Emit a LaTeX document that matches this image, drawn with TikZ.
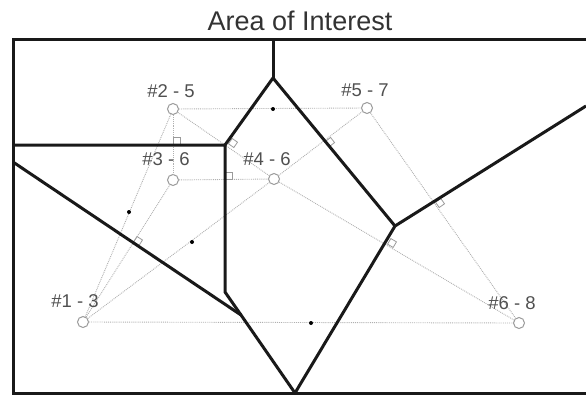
\documentclass[tikz,border=0pt]{standalone}
\usepackage{fontspec}
\setmainfont{Liberation Sans}
\definecolor{sitegray}{HTML}{9A9A9A}
\definecolor{delgray}{HTML}{B0B0B0}
\definecolor{labgray}{HTML}{505050}
\begin{document}
\begin{tikzpicture}[x=1pt,y=-1pt,
  vor/.style={line width=3pt, line join=miter, black!90},
  del/.style={densely dotted, line width=0.9pt, delgray},
  site/.style={circle, draw=sitegray, line width=1pt, minimum size=11pt, inner sep=0pt, fill=white},
  rsq/.style={rectangle, draw=sitegray, line width=0.8pt, minimum size=6.5pt, inner sep=0pt},
  mid/.style={circle, fill=black, minimum size=4pt, inner sep=0pt},
  lab/.style={font=\fontsize{18.5}{18.5}\selectfont, text=labgray, inner sep=0pt},
  ttl/.style={font=\fontsize{27}{27}\selectfont, text=black!80, inner sep=0pt}]
\useasboundingbox (0,0) rectangle (586,396);
% title
\node[ttl] (title) at (300,21) {Area of Interest};
% frame and Voronoi vertices
\coordinate (TL) at (13,40);
\coordinate (TR) at (586,40);
\coordinate (BL) at (13,393);
\coordinate (BR) at (586,393);
\coordinate (A) at (273,40);
\coordinate (B) at (273,78);
\coordinate (C) at (225,145);
\coordinate (L1) at (13,145);
\coordinate (D) at (225,292);
\coordinate (E) at (241,315);
\coordinate (L2) at (13,162);
\coordinate (F) at (295,393);
\coordinate (G) at (395,226);
\coordinate (R) at (586,106);
% sites
\node[site] (s1) at (83,322) {};
\node[site] (s2) at (173,109) {};
\node[site] (s3) at (173,180) {};
\node[site] (s4) at (274,179) {};
\node[site] (s5) at (367,108) {};
\node[site] (s6) at (519,323) {};
% Delaunay edges
\draw[del] (s1) -- (s2);
\draw[del] (s1) -- (s3);
\draw[del] (s1) -- (s4);
\draw[del] (s1) -- (s6);
\draw[del] (s2) -- (s3);
\draw[del] (s2) -- (s4);
\draw[del] (s2) -- (s5);
\draw[del] (s3) -- (s4);
\draw[del] (s4) -- (s5);
\draw[del] (s4) -- (s6);
\draw[del] (s5) -- (s6);
% right-angle markers
\node[rsq] (q1) at (177,141) {};
\node[rsq, rotate=-34.7] (q2) at (233,143) {};
\node[rsq] (q3) at (229,176) {};
\node[rsq, rotate=37.4] (q4) at (330,142) {};
\node[rsq, rotate=57.6] (q5) at (138,241) {};
\node[rsq, rotate=-30.4] (q6) at (392,243) {};
\node[rsq, rotate=35.3] (q7) at (440,203) {};
% midpoint dots
\node[mid] (m1) at (273,109) {};
\node[mid] (m2) at (129,212) {};
\node[mid] (m3) at (192,242) {};
\node[mid] (m4) at (311,323) {};
% Voronoi edges
\draw[vor] (TR) -- (TL) -- (BL) -- (BR);
\draw[vor] (A) -- (B);
\draw[vor] (B) -- (C);
\draw[vor] (L1) -- (C) -- (D) -- (E);
\draw[vor] (L2) -- (E) -- (F);
\draw[vor] (B) -- (G);
\draw[vor] (G) -- (F);
\draw[vor] (G) -- (R);
% labels
\node[lab] (l2) at (171,91) {\#2 - 5};
\node[lab] (l5) at (365,90) {\#5 - 7};
\node[lab] (l3) at (166,159) {\#3 - 6};
\node[lab] (l4) at (267,159) {\#4 - 6};
\node[lab] (l1) at (75,301) {\#1 - 3};
\node[lab] (l6) at (512,303) {\#6 - 8};
\end{tikzpicture}
\end{document}
